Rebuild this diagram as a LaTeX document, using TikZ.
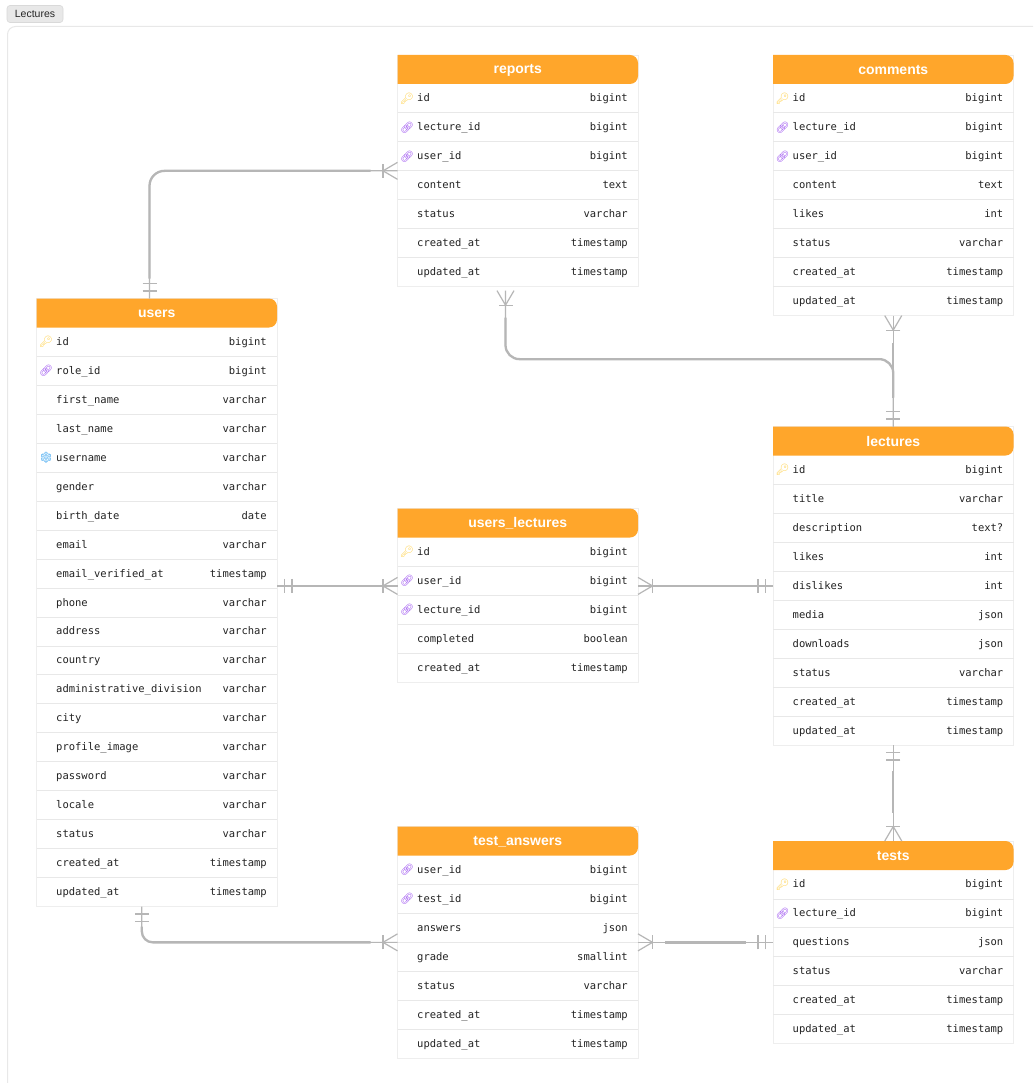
\documentclass[tikz,border=0pt]{standalone}
\usepackage{fontspec}
\setmainfont{Liberation Sans}
\newfontfamily\cellfont{DejaVu Sans Mono}
\newfontfamily\emojifont{Noto Emoji}
\usetikzlibrary{calc}
\definecolor{hdr}{HTML}{FFA62B}
\definecolor{wire}{HTML}{B6B6B6}
\definecolor{rowline}{HTML}{E8E8E8}
\definecolor{tblline}{HTML}{EEEEEE}
\definecolor{cell}{HTML}{222222}
\definecolor{keyc}{HTML}{FFD24D}
\definecolor{linkc}{HTML}{9A4DF0}
\definecolor{snowc}{HTML}{2E9FEF}
\newcommand{\iconK}{{\color{keyc}\emojifont\symbol{"1F511}}}
\newcommand{\iconL}{{\color{linkc}\emojifont\symbol{"1F517}}}
\newcommand{\iconS}{{\color{snowc}\emojifont\symbol{"2744}}}
\newcommand{\iconN}{}
\tikzset{
  x=1pt,y=-1pt,
  tablebox/.style={draw=tblline,line width=0.8pt,fill=white,anchor=north west,inner sep=0pt,outer sep=0pt,minimum width=240.5pt},
  rowbox/.style={anchor=north west,inner sep=0pt,outer sep=0pt,minimum width=240.5pt,minimum height=28.95pt},
  rowsep/.style={draw=rowline,line width=0.9pt},
  titletext/.style={text=white,font=\fontsize{14}{16}\selectfont\bfseries,inner sep=0pt},
  nametext/.style={text=cell,anchor=base west,inner sep=0pt,font=\fontsize{10.5}{12}\selectfont\cellfont},
  typetext/.style={text=cell,anchor=base east,inner sep=0pt,font=\fontsize{10.5}{12}\selectfont\cellfont},
  icontext/.style={anchor=center,inner sep=0pt,font=\fontsize{11}{12}\selectfont},
  wirethin/.style={draw=wire,line width=1.2pt},
  wirethick/.style={draw=wire,line width=2.3pt},
}
% id, x, y, number of rows, title, rows
\newcommand{\dbtable}[6]{
  \pgfmathsetmacro\tblh{29+#4*28.95}
  \node[tablebox,minimum height=\tblh pt] (#1) at (#2,#3) {};
  \fill[hdr,rounded corners=8pt] (#1.north west) -- (#1.north east) -- ++(0,29) [sharp corners] -- ($(#1.north west)+(0,29)$) -- cycle;
  \node[titletext] (#1-title) at ($(#1.north)+(0,15)$) {#5};
  \foreach \ic/\nm/\ty [count=\rn] in {#6} {
    \pgfmathsetmacro\ry{#3+29+(\rn-1)*28.95}
    \node[rowbox] (#1-r\rn) at (#2,\ry) {};
    \ifnum\rn<#4 \draw[rowsep] (#1-r\rn.south west) -- (#1-r\rn.south east);\fi
    \node[nametext] (#1-n\rn) at ($(#1-r\rn.west)+(19.5,3.5)$) {\nm};
    \node[typetext] (#1-t\rn) at ($(#1-r\rn.east)+(-10,3.5)$) {\ty};
    \expandafter\ifx\ic\iconN\else
      \node[icontext] (#1-i\rn) at ($(#1-r\rn.west)+(9.5,0)$) {\ic};
    \fi
  }
}
% crow's foot with its tip side at the coordinate, pointing away from the table at the given angle
\newcommand{\crowend}[2]{
  \begin{scope}[shift={(#1)},rotate=#2]
    \draw[wirethin] (0,-8.5) -- (14.5,0) -- (0,8.5);
    \draw[wirethin] (14.5,-7) -- (14.5,7);
  \end{scope}
}
\newcommand{\oneend}[2]{
  \begin{scope}[shift={(#1)},rotate=#2]
    \draw[wirethin] (7.5,-7) -- (7.5,7);
    \draw[wirethin] (15,-7) -- (15,7);
  \end{scope}
}
\begin{document}
\begin{tikzpicture}
\clip (0,0) rectangle (1033,1083);
\fill[white] (0,0) rectangle (1033,1083);
\draw[draw=rowline,line width=1pt,rounded corners=8pt] (7.5,1100) -- (7.5,26.5) -- (1050,26.5);
\node[fill=rowline,draw=black!15,line width=0.6pt,rounded corners=3pt,minimum width=56pt,minimum height=17pt,inner sep=0pt,font=\fontsize{10.5}{12}\selectfont,text=black!85] (group) at (35,14) {Lectures};

\dbtable{reports}{397.5}{55}{7}{reports}{
 \iconK/id/bigint,\iconL/lecture\_id/bigint,\iconL/user\_id/bigint,\iconN/content/text,\iconN/status/varchar,\iconN/created\_at/timestamp,\iconN/updated\_at/timestamp}
\dbtable{comments}{773}{55}{8}{comments}{
 \iconK/id/bigint,\iconL/lecture\_id/bigint,\iconL/user\_id/bigint,\iconN/content/text,\iconN/likes/int,\iconN/status/varchar,\iconN/created\_at/timestamp,\iconN/updated\_at/timestamp}
\dbtable{users}{36.5}{298.5}{20}{users}{
 \iconK/id/bigint,\iconL/role\_id/bigint,\iconN/first\_name/varchar,\iconN/last\_name/varchar,\iconS/username/varchar,\iconN/gender/varchar,\iconN/birth\_date/date,\iconN/email/varchar,\iconN/email\_verified\_at/timestamp,\iconN/phone/varchar,\iconN/address/varchar,\iconN/country/varchar,\iconN/administrative\_division/varchar,\iconN/city/varchar,\iconN/profile\_image/varchar,\iconN/password/varchar,\iconN/locale/varchar,\iconN/status/varchar,\iconN/created\_at/timestamp,\iconN/updated\_at/timestamp}
\dbtable{ul}{397.5}{508.5}{5}{users\_lectures}{
 \iconK/id/bigint,\iconL/user\_id/bigint,\iconL/lecture\_id/bigint,\iconN/completed/boolean,\iconN/created\_at/timestamp}
\dbtable{lectures}{773}{426.5}{10}{lectures}{
 \iconK/id/bigint,\iconN/title/varchar,\iconN/description/text?,\iconN/likes/int,\iconN/dislikes/int,\iconN/media/json,\iconN/downloads/json,\iconN/status/varchar,\iconN/created\_at/timestamp,\iconN/updated\_at/timestamp}
\dbtable{ta}{397.5}{826.5}{7}{test\_answers}{
 \iconL/user\_id/bigint,\iconL/test\_id/bigint,\iconN/answers/json,\iconN/grade/smallint,\iconN/status/varchar,\iconN/created\_at/timestamp,\iconN/updated\_at/timestamp}
\dbtable{tests}{773}{841}{6}{tests}{
 \iconK/id/bigint,\iconL/lecture\_id/bigint,\iconN/questions/json,\iconN/status/varchar,\iconN/created\_at/timestamp,\iconN/updated\_at/timestamp}

% users -- reports
\coordinate (ua) at ($(users.north west)+(113,0)$);
\draw[wirethin,rounded corners=15pt] (ua) |- (reports-r3.south west);
\draw[wirethick,rounded corners=15pt,shorten <=20pt,shorten >=27pt] (ua) |- (reports-r3.south west);
\oneend{ua}{90}\crowend{reports-r3.south west}{180}

% reports -- lectures
\coordinate (rb) at ($(reports.south west)+(108,4)$);
\coordinate (rc) at ($(rb)+(0,68.5)$);
\draw[wirethin,rounded corners=14pt] (rb) -- (rc) -- (rc -| lectures.north) -- (lectures.north);
\draw[wirethick,rounded corners=14pt,shorten <=27pt,shorten >=29pt] (rb) -- (rc) -- (rc -| lectures.north) -- (lectures.north);
\crowend{rb}{-90}

% comments -- lectures
\draw[wirethin] (comments.south) -- (lectures.north);
\draw[wirethick,shorten <=27pt,shorten >=29pt] (comments.south) -- (lectures.north);
\crowend{comments.south}{-90}\oneend{lectures.north}{90}

% users -- users_lectures
\coordinate (ule) at ($(ul-r2.west)+(0,5)$);
\coordinate (uue) at (users.east |- ule);
\draw[wirethin] (uue) -- (ule);
\draw[wirethick,shorten <=27pt,shorten >=27pt] (uue) -- (ule);
\oneend{uue}{0}\crowend{ule}{180}

% users_lectures -- lectures
\coordinate (ulr) at ($(ul-r2.east)+(0,5)$);
\coordinate (lel) at (lectures.west |- ulr);
\draw[wirethin] (ulr) -- (lel);
\draw[wirethick,shorten <=27pt,shorten >=27pt] (ulr) -- (lel);
\crowend{ulr}{0}\oneend{lel}{180}

% lectures -- tests
\draw[wirethin] (lectures.south) -- (tests.north);
\draw[wirethick,shorten <=26pt,shorten >=28pt] (lectures.south) -- (tests.north);
\oneend{lectures.south}{-90}\crowend{tests.north}{90}

% users -- test_answers
\coordinate (ub) at ($(users.south west)+(105.3,0)$);
\draw[wirethin,rounded corners=11pt] (ub) |- (ta-r3.south west);
\draw[wirethick,rounded corners=11pt,shorten <=20pt,shorten >=27pt] (ub) |- (ta-r3.south west);
\oneend{ub}{-90}\crowend{ta-r3.south west}{180}

% test_answers -- tests
\coordinate (tst) at (tests.west |- ta-r3.south east);
\draw[wirethin] (ta-r3.south east) -- (tst);
\draw[wirethick,shorten <=27pt,shorten >=27pt] (ta-r3.south east) -- (tst);
\crowend{ta-r3.south east}{0}\oneend{tst}{180}
\end{tikzpicture}
\end{document}
